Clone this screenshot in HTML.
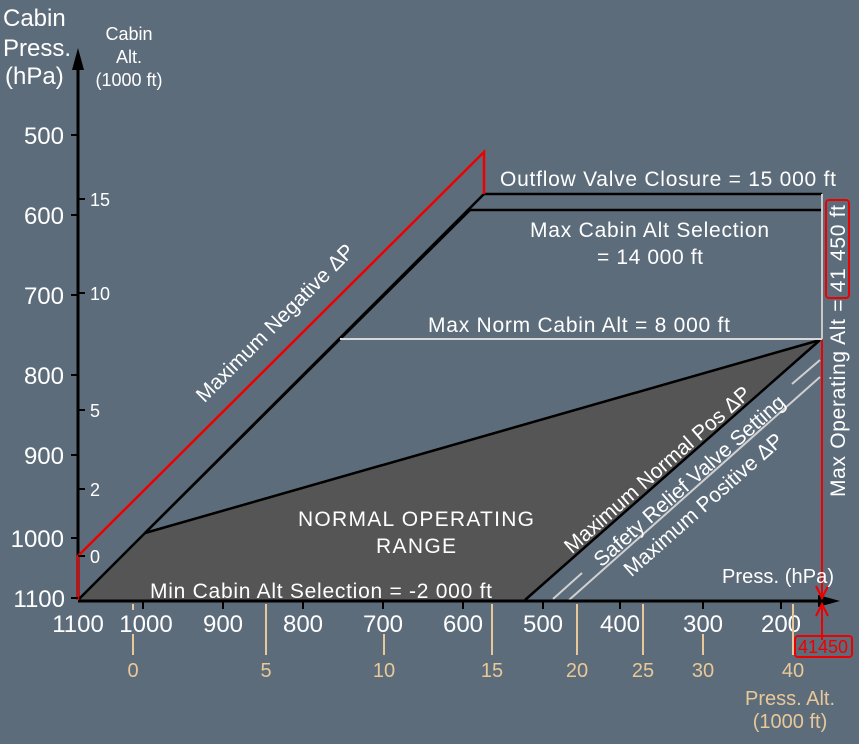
<!DOCTYPE html>
<html><head><meta charset="utf-8"><style>
html,body{margin:0;padding:0;background:#5d6c7b;}
svg{display:block;font-family:"Liberation Sans",Arial,sans-serif;}
</style></head><body>
<svg width="859" height="744" viewBox="0 0 859 744">
<rect width="859" height="744" fill="#5d6c7b"/>
<polygon points="78,600 145,533 820,340 525,600" fill="#555555"/>
<polyline points="145,533 820,340 525,600" fill="none" stroke="#000" stroke-width="2.5"/>
<polyline points="78,600 484,194 822,194" fill="none" stroke="#000" stroke-width="2.5"/>
<polyline points="145,533 470,210 822,210" fill="none" stroke="#000" stroke-width="2.5"/>
<line x1="340" y1="339" x2="822" y2="339" stroke="#d8d8d8" stroke-width="2"/>
<line x1="822" y1="194" x2="822" y2="339" stroke="#c8c8c8" stroke-width="2"/>
<line x1="553" y1="599" x2="582" y2="573" stroke="#d0d0d0" stroke-width="2"/>
<line x1="792" y1="384" x2="820" y2="360" stroke="#d0d0d0" stroke-width="2"/>
<line x1="569" y1="600" x2="820" y2="377" stroke="#d0d0d0" stroke-width="2"/>
<!-- axes -->
<line x1="78" y1="600" x2="78" y2="62" stroke="#000" stroke-width="3"/>
<polygon points="78,48 72,70 84,70" fill="#000"/>
<line x1="78" y1="601" x2="825" y2="601" stroke="#000" stroke-width="3"/>
<polygon points="840,601 818,595 818,607" fill="#000"/>
<!-- red line -->
<polyline points="78,600 78,556 484,152 484,194" fill="none" stroke="#e00" stroke-width="2.5"/>
<line x1="822" y1="340" x2="822" y2="596" stroke="#e00" stroke-width="2"/>
<polyline points="816,586 822,598 828,586" fill="none" stroke="#e00" stroke-width="2"/>
<line x1="822" y1="640" x2="822" y2="606" stroke="#e00" stroke-width="2"/>
<polyline points="816,616 822,604 828,616" fill="none" stroke="#e00" stroke-width="2"/>
<rect x="795" y="636" width="57" height="21" rx="3" fill="none" stroke="#e00" stroke-width="2"/>
<text x="823" y="653" fill="#e00" font-size="18" text-anchor="middle">41450</text>
<g stroke="#000" stroke-width="2">
<line x1="71" y1="135" x2="78" y2="135"/><line x1="71" y1="215" x2="78" y2="215"/>
<line x1="71" y1="295" x2="78" y2="295"/><line x1="71" y1="375" x2="78" y2="375"/>
<line x1="71" y1="455" x2="78" y2="455"/><line x1="71" y1="538" x2="78" y2="538"/>
<line x1="71" y1="598" x2="78" y2="598"/>
<line x1="78" y1="199" x2="85" y2="199"/><line x1="78" y1="293" x2="85" y2="293"/>
<line x1="78" y1="410" x2="85" y2="410"/><line x1="78" y1="489" x2="85" y2="489"/>
<line x1="78" y1="556" x2="85" y2="556"/>
<line x1="143" y1="601" x2="143" y2="609"/><line x1="223" y1="601" x2="223" y2="609"/>
<line x1="303" y1="601" x2="303" y2="609"/><line x1="383" y1="601" x2="383" y2="609"/>
<line x1="463" y1="601" x2="463" y2="609"/><line x1="543" y1="601" x2="543" y2="609"/>
<line x1="620" y1="601" x2="620" y2="609"/><line x1="703" y1="601" x2="703" y2="609"/>
<line x1="781" y1="601" x2="781" y2="609"/>
</g>
<g fill="#fff" font-size="24" text-anchor="end">
<text x="64" y="144">500</text><text x="64" y="224">600</text><text x="64" y="304">700</text>
<text x="64" y="384">800</text><text x="64" y="464">900</text><text x="64" y="547">1000</text>
<text x="65" y="607">1100</text>
</g>
<g fill="#fff" font-size="18">
<text x="90" y="206">15</text><text x="90" y="300">10</text><text x="90" y="417">5</text>
<text x="90" y="496">2</text><text x="90" y="563">0</text>
</g>
<g fill="#fff" font-size="24" text-anchor="middle">
<text x="78" y="632">1100</text><text x="146" y="632">1000</text><text x="223" y="632">900</text>
<text x="303" y="632">800</text><text x="383" y="632">700</text><text x="463" y="632">600</text>
<text x="543" y="632">500</text><text x="620" y="632">400</text><text x="703" y="632">300</text>
<text x="781" y="632">200</text>
</g>
<g stroke="#e8c898" stroke-width="2">
<line x1="133" y1="604" x2="133" y2="610"/><line x1="133" y1="634" x2="133" y2="655"/>
<line x1="266" y1="604" x2="266" y2="655"/>
<line x1="384" y1="634" x2="384" y2="655"/>
<line x1="492" y1="604" x2="492" y2="655"/>
<line x1="577" y1="604" x2="577" y2="655"/>
<line x1="643" y1="604" x2="643" y2="655"/>
<line x1="703" y1="634" x2="703" y2="655"/>
<line x1="793" y1="604" x2="793" y2="655"/>
</g>
<g fill="#e8c898" font-size="20" text-anchor="middle">
<text x="133" y="677">0</text><text x="266" y="677">5</text><text x="384" y="677">10</text>
<text x="492" y="677">15</text><text x="577" y="677">20</text><text x="643" y="677">25</text>
<text x="703" y="677">30</text><text x="793" y="677">40</text>
<text x="790" y="705">Press. Alt.</text><text x="790" y="728">(1000 ft)</text>
</g>
<g fill="#fff" font-size="24">
<text x="3" y="26">Cabin</text><text x="3" y="56">Press.</text><text x="5" y="84">(hPa)</text>
</g>
<g fill="#fff" font-size="18" text-anchor="middle">
<text x="129" y="40">Cabin</text><text x="129" y="63">Alt.</text><text x="129" y="86">(1000 ft)</text>
</g>
<text x="722" y="583" fill="#fff" font-size="20" textLength="112">Press. (hPa)</text>
<g fill="#fff" font-size="21">
<text x="500" y="186" textLength="336">Outflow Valve Closure = 15 000 ft</text>
<text x="530" y="237" textLength="239">Max Cabin Alt Selection</text>
<text x="597" y="264" textLength="106">= 14 000 ft</text>
<text x="428" y="332" textLength="302">Max Norm Cabin Alt = 8 000 ft</text>
<text x="298" y="526" textLength="236">NORMAL OPERATING</text>
<text x="376" y="553" textLength="80">RANGE</text>
<text x="150" y="598" textLength="342">Min Cabin Alt Selection = -2 000 ft</text>
</g>
<g fill="#fff" font-size="21">
<text transform="translate(280,328) rotate(-45)" text-anchor="middle">Maximum Negative ΔP</text>
<text transform="translate(662,475) rotate(-41.4)" text-anchor="middle">Maximum Normal Pos ΔP</text>
<text transform="translate(694,486) rotate(-41.4)" text-anchor="middle">Safety Relief Valve Setting</text>
<text transform="translate(708,510) rotate(-41.4)" text-anchor="middle">Maximum Positive ΔP</text>
<text transform="translate(845,351) rotate(-90)" text-anchor="middle" textLength="292">Max Operating Alt = 41 450 ft</text>
</g>
<rect x="826" y="200" width="23" height="98" rx="3" fill="none" stroke="#e00" stroke-width="2"/>
</svg>
</body></html>
